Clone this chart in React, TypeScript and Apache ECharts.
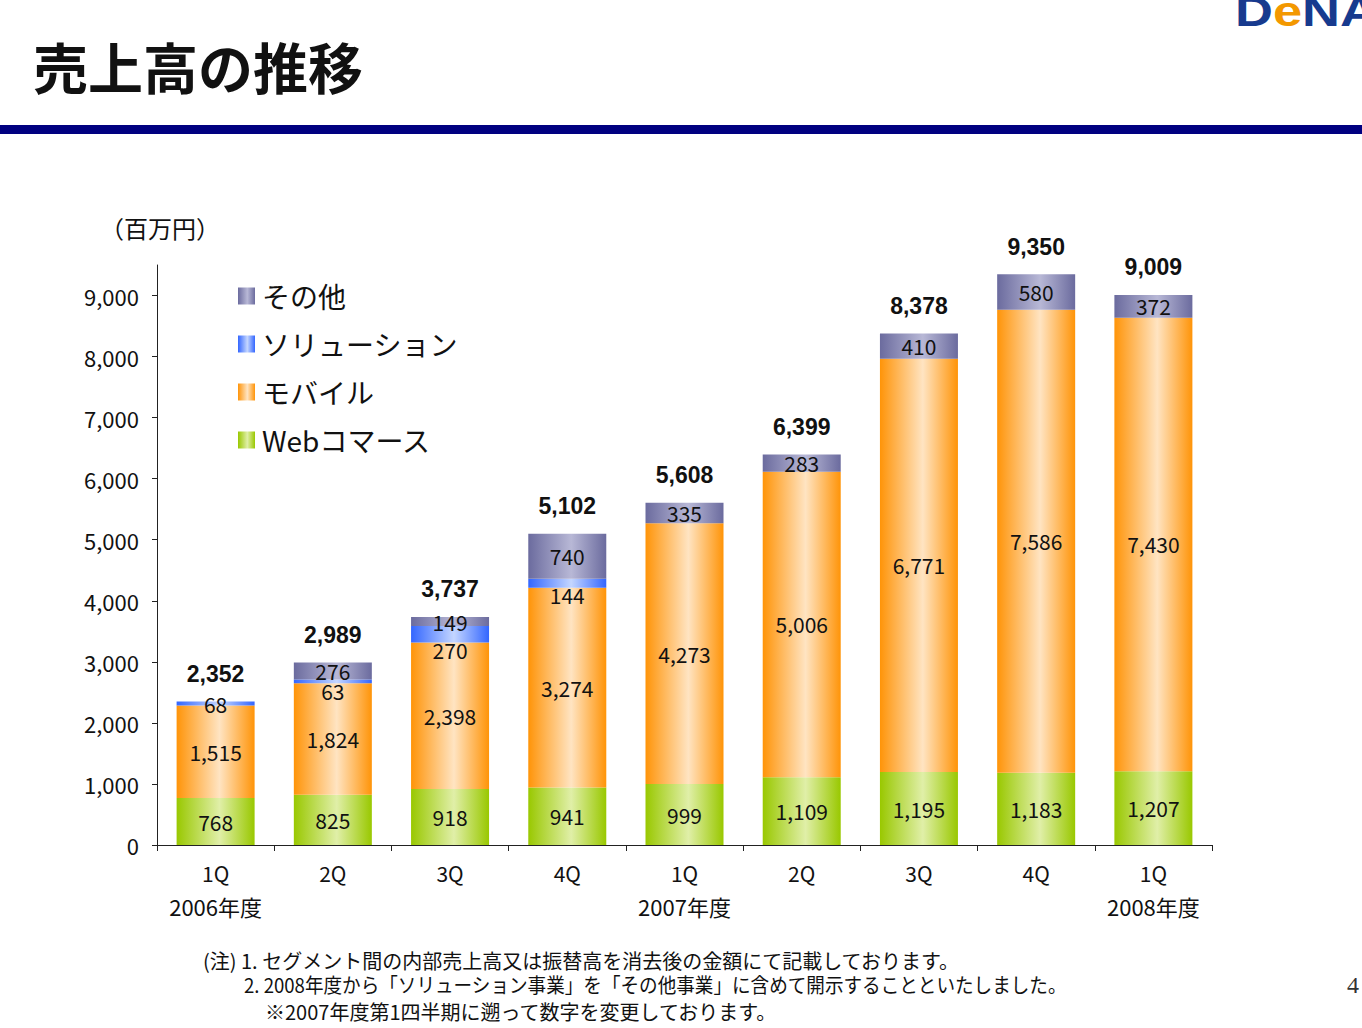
import React, { useEffect, useRef } from "react";
import * as echarts from "echarts";

const categories = ["1Q", "2Q", "3Q", "4Q", "1Q", "2Q", "3Q", "4Q", "1Q"];
const fiscalYears = ["2006年度", "", "", "", "2007年度", "", "", "", "2008年度"];
const webCommerce = [768, 825, 918, 941, 999, 1109, 1195, 1183, 1207];
const mobile = [1515, 1824, 2398, 3274, 4273, 5006, 6771, 7586, 7430];
const solution = [68, 63, 270, 144, 0, 0, 0, 0, 0];
const other = [0, 276, 149, 740, 335, 283, 410, 580, 372];
const totals = [2352, 2989, 3737, 5102, 5608, 6399, 8378, 9350, 9009];
const yTickValues = [0, 1000, 2000, 3000, 4000, 5000, 6000, 7000, 8000, 9000];

const seriesNames = { web: "Webコマース", mobile: "モバイル", solution: "ソリューション", other: "その他" };
const footnotes = [
  "(注) 1. セグメント間の内部売上高又は振替高を消去後の金額にて記載しております。",
  "2. 2008年度から「ソリューション事業」を「その他事業」に含めて開示することといたしました。",
  "※2007年度第1四半期に遡って数字を変更しております。",
];

const JP = '"Noto Sans CJK JP", "Noto Sans", sans-serif';
const SANS = '"Liberation Sans", Arial, sans-serif';

const grad = (edge: string, center: string) =>
  new echarts.graphic.LinearGradient(0, 0, 1, 0, [
    { offset: 0, color: edge },
    { offset: 0.55, color: center },
    { offset: 1, color: edge },
  ]);

const fmt = (v: number) => v.toLocaleString("en-US");

export default function App() {
  const ref = useRef<HTMLDivElement>(null);
  useEffect(() => {
    if (!ref.current) return;
    const chart = echarts.init(ref.current, null, { renderer: "svg" });
    const segLabel = {
      show: true,
      position: "inside" as const,
      fontSize: 21,
      fontFamily: JP,
      color: "#111",
      formatter: (p: any) => (p.value ? fmt(p.value) : ""),
    };
    const solutionData = solution.map((v, i) =>
      i === 0 ? { value: v, label: { position: "inside" } } : v
    );
    const option: any = {
      animation: false,
      backgroundColor: "#ffffff",
      grid: { left: 157, top: 265, width: 1055, height: 580, containLabel: false, outerBoundsMode: "none" },
      legend: {
        show: true,
        orient: "vertical",
        left: 233,
        top: 277,
        itemWidth: 17,
        itemHeight: 17,
        itemGap: 20,
        icon: "rect",
        selectedMode: false,
        data: [seriesNames.other, seriesNames.solution, seriesNames.mobile, seriesNames.web],
        textStyle: { fontSize: 28, lineHeight: 28, fontFamily: JP, color: "#111", padding: [0, 0, 0, 2] },
      },
      xAxis: {
        type: "category",
        data: categories,
        axisLine: { show: true, lineStyle: { color: "#222", width: 1 } },
        axisTick: { show: true, length: 6, lineStyle: { color: "#222" } },
        axisLabel: {
          margin: 16,
          formatter: (v: string, i: number) => (fiscalYears[i] ? `{q|${v}}\n{y|${fiscalYears[i]}}` : `{q|${v}}`),
          rich: {
            q: { fontSize: 21, lineHeight: 24, fontFamily: JP, color: "#111" },
            y: { fontSize: 22, lineHeight: 42, fontFamily: JP, color: "#111" },
          },
        },
        splitLine: { show: false },
      },
      yAxis: {
        type: "value",
        min: 0,
        max: 9500,
        axisLine: { show: true, lineStyle: { color: "#222", width: 1 } },
        axisTick: { show: true, length: 5, customValues: yTickValues, lineStyle: { color: "#222" } },
        axisLabel: {
          customValues: yTickValues,
          margin: 18,
          fontSize: 22,
          fontFamily: JP,
          color: "#111",
          formatter: (v: number) => fmt(v),
        },
        splitLine: { show: false },
      },
      series: [
        {
          name: seriesNames.web,
          type: "bar",
          stack: "total",
          barWidth: 78,
          data: webCommerce,
          itemStyle: { color: grad("#99C800", "#E0EFA8") },
          label: segLabel,
        },
        {
          name: seriesNames.mobile,
          type: "bar",
          stack: "total",
          barWidth: 78,
          data: mobile,
          itemStyle: { color: grad("#FF9408", "#FFE4C2") },
          label: segLabel,
        },
        {
          name: seriesNames.solution,
          type: "bar",
          stack: "total",
          barWidth: 78,
          data: solutionData,
          itemStyle: { color: grad("#3366FF", "#C4D6FF") },
          label: { ...segLabel, position: "bottom", distance: -3 },
        },
        {
          name: seriesNames.other,
          type: "bar",
          stack: "total",
          barWidth: 78,
          data: other,
          itemStyle: { color: grad("#6B6B9E", "#B8B8D6") },
          label: segLabel,
        },
        {
          name: "total",
          type: "bar",
          stack: "total",
          barWidth: 78,
          data: totals.map(() => 0),
          itemStyle: { color: "rgba(0,0,0,0)" },
          label: {
            show: true,
            position: "top",
            distance: 16,
            fontSize: 23,
            fontWeight: "bold",
            fontFamily: SANS,
            color: "#111",
            formatter: (p: any) => fmt(totals[p.dataIndex]),
          },
        },
      ],
      graphic: [
        {
          type: "text",
          left: 33,
          top: 37,
          style: { text: "売上高の推移", fontSize: 55, fontWeight: "bold", fontFamily: JP, fill: "#111" },
        },
        {
          type: "rect",
          shape: { x: 0, y: 125, width: 1362, height: 9 },
          style: { fill: "#000080" },
        },
        {
          type: "text",
          x: 1235,
          y: 11,
          scaleX: 1.25,
          style: {
            text: "{n|D}{e|e}{n|NA}",
            verticalAlign: "middle",
            rich: {
              n: { fontSize: 42, fontWeight: "bold", fontFamily: SANS, fill: "#173A8E" },
              e: { fontSize: 42, fontWeight: "bold", fontFamily: SANS, fill: "#F39800" },
            },
          },
        },
        {
          type: "text",
          x: 100,
          y: 227,
          style: { text: "（百万円）", fontSize: 24, fontFamily: JP, fill: "#111", verticalAlign: "middle" },
        },
        {
          type: "text",
          x: 203,
          y: 960,
          style: { text: footnotes[0], fontSize: 20, fontFamily: JP, fill: "#111", verticalAlign: "middle" },
        },
        {
          type: "text",
          x: 244,
          y: 985,
          scaleX: 0.93,
          style: { text: footnotes[1], fontSize: 20, fontFamily: JP, fill: "#111", verticalAlign: "middle" },
        },
        {
          type: "text",
          x: 265,
          y: 1011,
          style: { text: footnotes[2], fontSize: 20, fontFamily: JP, fill: "#111", verticalAlign: "middle" },
        },
        {
          type: "text",
          x: 1347,
          y: 985,
          style: { text: "4", fontSize: 24, fontFamily: '"Liberation Serif", serif', fill: "#333", verticalAlign: "middle" },
        },
      ],
    };
    chart.setOption(option);
    return () => chart.dispose();
  }, []);
  return (
    <div
      ref={ref}
      style={{ position: "absolute", left: 0, top: 0, width: 1362, height: 1028, background: "#fff" }}
    />
  );
}
